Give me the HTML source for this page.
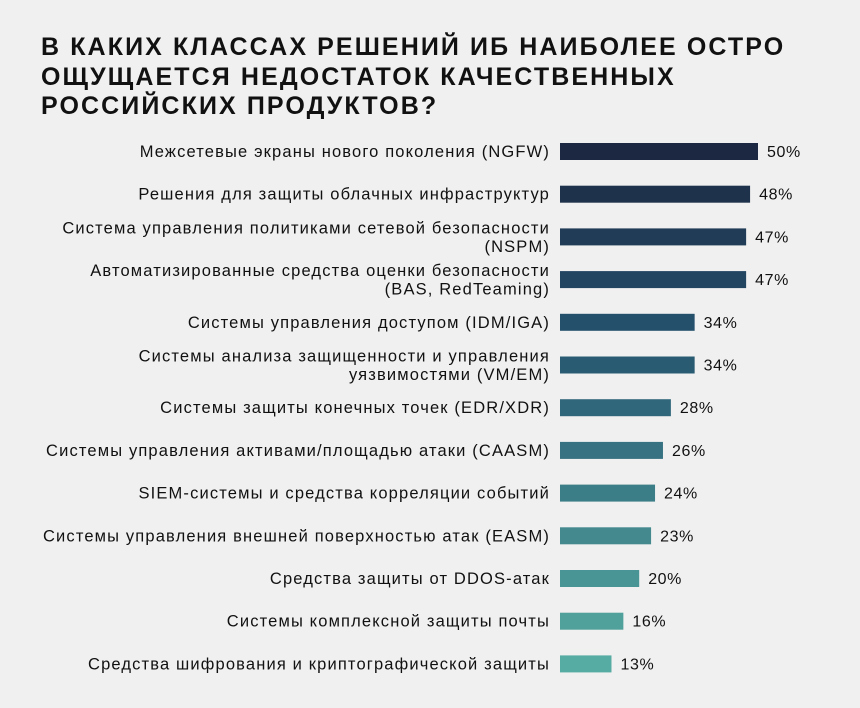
<!DOCTYPE html>
<html><head><meta charset="utf-8"><style>
body{margin:0;background:#f0f0f0;width:860px;height:708px;overflow:hidden;font-family:"Liberation Sans",sans-serif;}
#title{position:absolute;left:41px;top:33px;font-size:25px;font-weight:bold;line-height:29.5px;color:#111;letter-spacing:2.1px;}
svg{position:absolute;left:0;top:0}
</style></head><body>
<div id="title">В КАКИХ КЛАССАХ РЕШЕНИЙ ИБ НАИБОЛЕЕ ОСТРО<br>ОЩУЩАЕТСЯ НЕДОСТАТОК КАЧЕСТВЕННЫХ<br>РОССИЙСКИХ ПРОДУКТОВ?</div>
<svg id="chart" width="860" height="708"></svg>
<script>
const categories=[
["Межсетевые экраны нового поколения (NGFW)"],
["Решения для защиты облачных инфраструктур"],
["Система управления политиками сетевой безопасности","(NSPM)"],
["Автоматизированные средства оценки безопасности","(BAS, RedTeaming)"],
["Системы управления доступом (IDM/IGA)"],
["Системы анализа защищенности и управления","уязвимостями (VM/EM)"],
["Системы защиты конечных точек (EDR/XDR)"],
["Системы управления активами/площадью атаки (CAASM)"],
["SIEM-системы и средства корреляции событий"],
["Системы управления внешней поверхностью атак (EASM)"],
["Средства защиты от DDOS-атак"],
["Системы комплексной защиты почты"],
["Средства шифрования и криптографической защиты"]];
const values=[50,48,47,47,34,34,28,26,24,23,20,16,13];
const valueLabels=["50%","48%","47%","47%","34%","34%","28%","26%","24%","23%","20%","16%","13%"];
const svg=document.getElementById('chart');
const NS='http://www.w3.org/2000/svg';
const x0=560, scale=3.96, y0=151.5, step=42.7, bh=17;
const xs=v=>v*scale;
const ys=i=>y0+i*step;
const stops=[[0,[28,40,65]],[0.35,[36,82,110]],[1,[86,172,162]]];
function col(i){const t=i/(values.length-1);
 let a=stops[0],b=stops[1]; if(t>stops[1][0]){a=stops[1];b=stops[2];}
 const u=(t-a[0])/(b[0]-a[0]);
 return 'rgb('+a[1].map((c,k)=>Math.round(c+(b[1][k]-c)*u)).join(',')+')';}
values.forEach((v,i)=>{
 const cy=ys(i);
 const r=document.createElementNS(NS,'rect');
 r.setAttribute('x',x0);r.setAttribute('y',cy-bh/2);r.setAttribute('width',xs(v));r.setAttribute('height',bh);r.setAttribute('fill',col(i));
 
 
 svg.appendChild(r);
 const t=document.createElementNS(NS,'text');
 t.setAttribute('x',x0+xs(v)+9);t.setAttribute('y',cy+5.5);t.setAttribute('font-size','16');t.setAttribute('fill','#111');
 t.setAttribute('letter-spacing','0.6');
 t.setAttribute('font-family','Liberation Sans, sans-serif');
 t.textContent=valueLabels[i];
 
 
 svg.appendChild(t);
 const lines=categories[i];
 lines.forEach((ln,j)=>{
  const l=document.createElementNS(NS,'text');
  const off=lines.length===1?5.5:(j===0?-3.5:15);
  l.setAttribute('x',550);l.setAttribute('y',cy+off);l.setAttribute('text-anchor','end');l.setAttribute('font-size','16.5');l.setAttribute('fill','#111');
  l.setAttribute('letter-spacing','1.15');
  l.setAttribute('font-family','Liberation Sans, sans-serif');
  l.textContent=ln;
  
  
  svg.appendChild(l);
 });
});
</script>
</body></html>
